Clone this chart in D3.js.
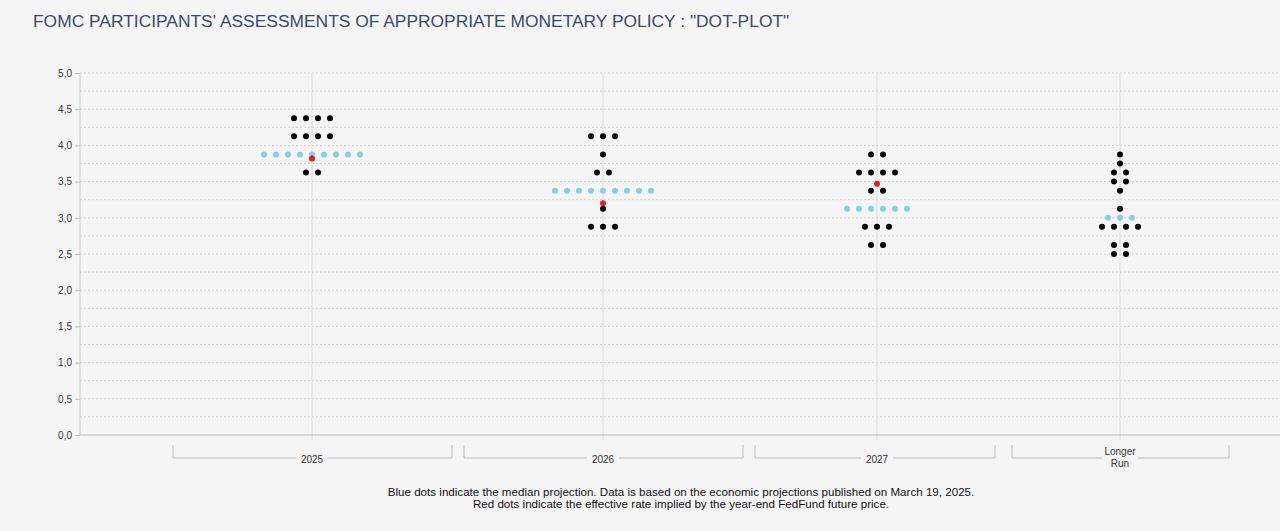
<!DOCTYPE html>
<html><head><meta charset="utf-8">
<script src="https://cdn.jsdelivr.net/npm/d3@7"></script>
<style>body{margin:0;background:#f5f5f5;font-family:"Liberation Sans",Arial,sans-serif}</style>
</head><body><svg id="c" width="1280" height="531"></svg>
<script>
const categories = ["2025","2026","2027","Longer Run"];
// [rate, count] per category
const dots2025 = [[4.375,4],[4.125,4],[3.625,2]];
const dots2026 = [[4.125,3],[3.875,1],[3.625,2],[3.125,1],[2.875,3]];
const dots2027 = [[3.875,2],[3.625,4],[3.375,2],[2.875,3],[2.625,2]];
const dotsLR = [[3.875,1],[3.75,1],[3.625,2],[3.5,2],[3.375,1],[3.125,1],[2.875,4],[2.625,2],[2.5,2]];
const medians = [[3.875,9],[3.375,9],[3.125,6],[3.0,3]];
const futures = [3.82,3.2,3.47,null];
const yTicks = [0,0.5,1,1.5,2,2.5,3,3.5,4,4.5,5];
const allDots = [dots2025,dots2026,dots2027,dotsLR];

const svg = d3.select("#c");
const y = d3.scaleLinear().domain([0,5]).range([435,73]);
const x = d3.scaleOrdinal().domain(categories).range([312,603,877,1120]);
const brackets = d3.scaleOrdinal().domain(categories).range([[173,452],[464,743],[755,995],[1012,1229]]);
const step = 12;

svg.append("text").attr("x",33).attr("y",27).attr("font-size",17.4).attr("fill","#3b4a6b")
  .text('FOMC PARTICIPANTS\' ASSESSMENTS OF APPROPRIATE MONETARY POLICY : "DOT-PLOT"');

d3.range(0.25,5.01,0.25).forEach(v=>{
  svg.append("line").attr("x1",80).attr("x2",1280).attr("y1",y(v)).attr("y2",y(v))
   .attr("stroke","#cfcfcf").attr("stroke-dasharray","2,2");
});
categories.forEach(c=>svg.append("line").attr("x1",x(c)).attr("x2",x(c)).attr("y1",73).attr("y2",440).attr("stroke","#dcdcdc"));
svg.append("line").attr("x1",80).attr("x2",1280).attr("y1",y(0)).attr("y2",y(0)).attr("stroke","#bbb");
svg.append("line").attr("x1",80).attr("x2",80).attr("y1",73).attr("y2",435).attr("stroke","#ccc");
svg.append("g").attr("transform","translate(80,0)").call(d3.axisLeft(y).tickValues(yTicks).tickSize(5).tickFormat(d=>d3.format(".1f")(d).replace(".",",")))
  .call(g=>{g.select(".domain").remove();g.selectAll("line").attr("stroke","#bbb");g.selectAll("text").attr("font-size",10).attr("fill","#333").attr("font-family","Liberation Sans, Arial");});

categories.forEach(c=>{
  const [a,b]=brackets(c);
  svg.append("path").attr("d",`M${a},445V458H${b}V445`).attr("fill","none").attr("stroke","#bbb");
  if(c!=="Longer Run"){
    svg.append("rect").attr("x",x(c)-16).attr("y",454).attr("width",32).attr("height",8).attr("fill","#f5f5f5");
    svg.append("text").attr("text-anchor","middle").attr("font-size",10).attr("fill","#333").attr("x",x(c)).attr("y",463).text(c);
  } else {
    svg.append("rect").attr("x",x(c)-18).attr("y",444).attr("width",36).attr("height",24).attr("fill","#f5f5f5");
    svg.append("text").attr("text-anchor","middle").attr("font-size",10).attr("fill","#333").attr("x",x(c)).attr("y",455).text("Longer");
    svg.append("text").attr("text-anchor","middle").attr("font-size",10).attr("fill","#333").attr("x",x(c)).attr("y",467).text("Run");
  }
});

function row(c,rate,n,color,r){
  d3.range(n).forEach(i=>{
    svg.append("circle").attr("cx",x(c)+(i-(n-1)/2)*step).attr("cy",y(rate)).attr("r",r).attr("fill",color);
  });
}
categories.forEach((c,k)=>{
  allDots[k].forEach(([r,n])=>row(c,r,n,"#000",3));
  row(c,medians[k][0],medians[k][1],"#87cde8",3);
  if(futures[k]!=null) svg.append("circle").attr("cx",x(c)).attr("cy",y(futures[k])).attr("r",3).attr("fill","#e02020");
});

svg.append("text").attr("x",681).attr("y",496).attr("text-anchor","middle").attr("font-size",11.6).attr("fill","#111")
 .text("Blue dots indicate the median projection. Data is based on the economic projections published on March 19, 2025.");
svg.append("text").attr("x",681).attr("y",508).attr("text-anchor","middle").attr("font-size",11.6).attr("fill","#111")
 .text("Red dots indicate the effective rate implied by the year-end FedFund future price.");
</script></body></html>
